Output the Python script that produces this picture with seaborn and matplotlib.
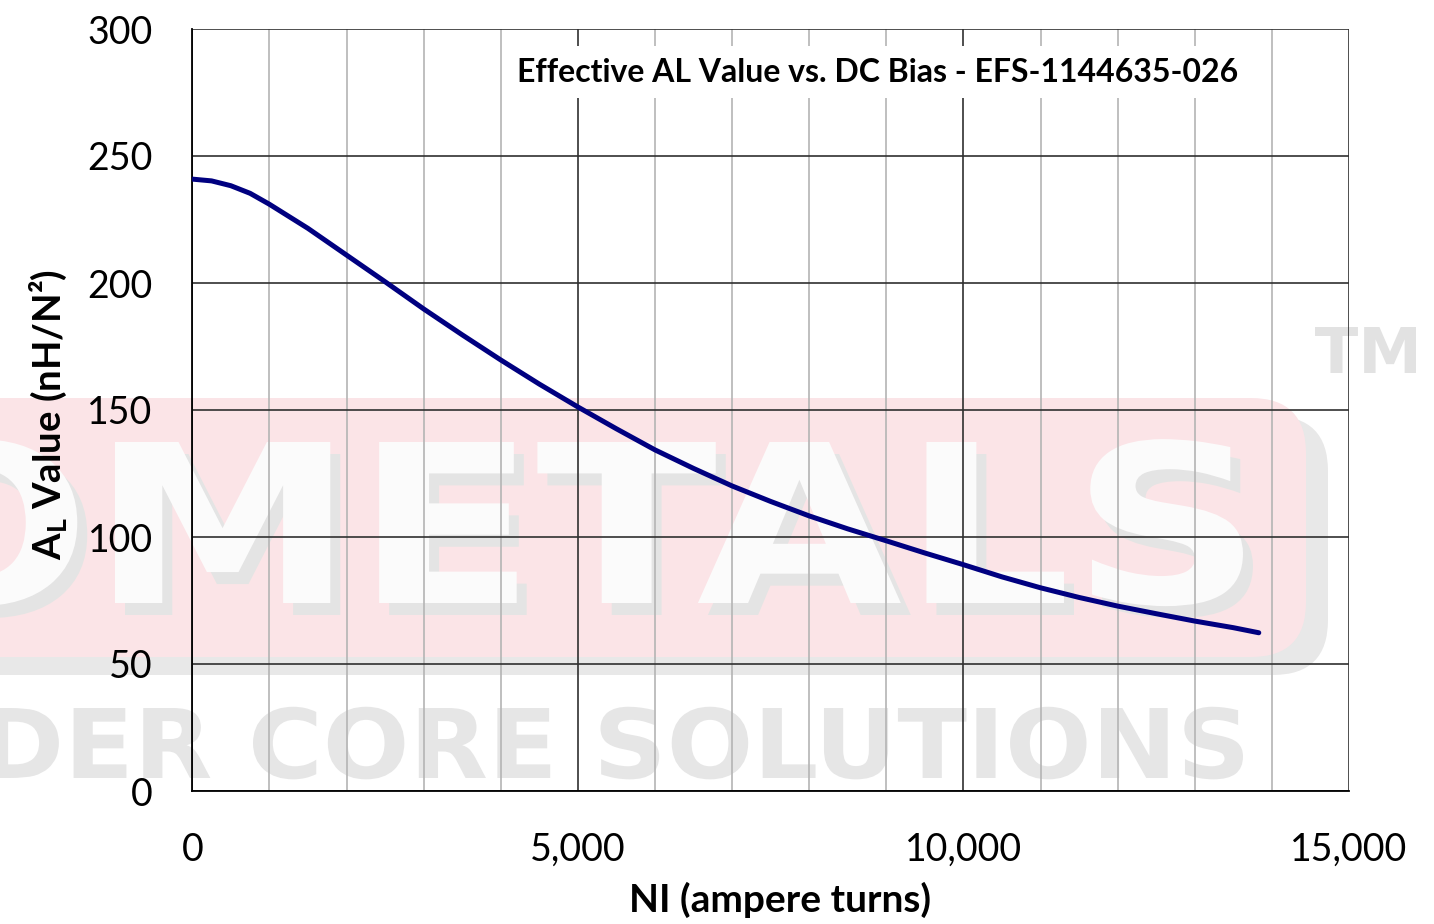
import numpy as np
import pandas as pd
import matplotlib
matplotlib.use("Agg")
import matplotlib.pyplot as plt
import seaborn as sns
from matplotlib.ticker import MultipleLocator, FuncFormatter
from matplotlib.textpath import TextPath
from matplotlib.font_manager import FontProperties
from matplotlib.patches import PathPatch, FancyBboxPatch
from matplotlib.transforms import Affine2D

# ---- data ----
ni_ampere_turns = [0, 250, 500, 750, 1000, 1500, 2000, 2500, 3000, 3500, 4000, 4500, 5000,
                   5500, 6000, 6500, 7000, 7500, 8000, 8500, 9000, 9500, 10000,
                   10500, 11000, 11500, 12000, 12500, 13000, 13500, 13830]
al_value = [240.9, 240.2, 238.3, 235.3, 231.0, 221.5, 211.0, 200.5, 189.8, 179.6, 169.7,
            160.2, 151.2, 142.6, 134.3, 127.0, 120.1, 114.0, 108.3, 103.2, 98.5, 93.7,
            89.1, 84.3, 80.0, 76.2, 72.8, 69.8, 66.9, 64.3, 62.3]
title_text = "Effective AL Value vs. DC Bias - EFS-1144635-026"
x_label = "NI (ampere turns)"
y_label = r"A$_\mathregular{L}$ Value (nH/N²)"

df = pd.DataFrame({"NI": ni_ampere_turns, "AL": al_value})

sns.set_theme(style="white")
plt.rcParams["font.family"] = ["Lato", "DejaVu Sans"]
plt.rcParams["mathtext.fontset"] = "custom"
plt.rcParams["mathtext.rm"] = "Lato:bold"

W, H = 1434, 924
fig = plt.figure(figsize=(W / 100, H / 100), dpi=100)
fig.patch.set_facecolor("white")
px = Affine2D().scale(1 / W, 1 / H) + fig.transFigure  # pixel coords, origin bottom-left

# ---- watermark (background logo) ----
wm_font = FontProperties(family="DejaVu Sans", weight="bold")


def place_text(s, prefix, x_left, x_right, y_top, y_bottom, color, dx=0, dy=0, z=-5):
    tp = TextPath((0, 0), s, size=100, prop=wm_font)
    ext = tp.get_extents()
    cap = TextPath((0, 0), "M", size=100, prop=wm_font).get_extents()
    if prefix:
        nxt = s[len(prefix)]
        pn = TextPath((0, 0), prefix + nxt, size=100, prop=wm_font).get_extents()
        one = TextPath((0, 0), nxt, size=100, prop=wm_font).get_extents()
        x0_src = pn.x1 - one.width
    else:
        x0_src = ext.x0
    x1_src = ext.x1
    sx = (x_right - x_left) / (x1_src - x0_src)
    sy = (y_bottom - y_top) / cap.y1
    tr = (Affine2D().translate(-x0_src, 0).scale(sx, sy)
          .translate(x_left + dx, H - y_bottom - dy) + px)
    patch = PathPatch(tp, transform=tr, facecolor=color, edgecolor="none", zorder=z)
    fig.add_artist(patch)


# pink rounded rectangle with grey shadow
shadow = FancyBboxPatch((-200 + 22, H - 675), 1306 + 200, 657 - 398,
                        boxstyle="round,pad=0,rounding_size=55",
                        transform=px, facecolor="#e8e8e8", edgecolor="none", zorder=-9)
pink = FancyBboxPatch((-200, H - 657), 1306 + 200, 657 - 398,
                      boxstyle="round,pad=0,rounding_size=55",
                      transform=px, facecolor="#fbe4e7", edgecolor="none", zorder=-8)
fig.add_artist(shadow)
fig.add_artist(pink)
place_text("MICROMETALS", "MICRO", 115, 1243, 442, 603, "#e4e4e4", dx=10, dy=12, z=-7)
place_text("MICROMETALS", "MICRO", 115, 1243, 442, 603, "#fbfbfb", z=-6)
place_text("POWDER CORE SOLUTIONS", "POWDER ", 253, 1243, 708, 778, "#e6e6e6", z=-6)
place_text("TM", None, 1315, 1416, 327, 373, "#e2e2e2", z=-6)

# ---- axes ----
ax_left, ax_right, ax_top, ax_bottom = 192.3, 1349.0, 29.0, 791.0
ax = fig.add_axes([ax_left / W, (H - ax_bottom) / H,
                   (ax_right - ax_left) / W, (ax_bottom - ax_top) / H])
ax.set_facecolor("none")
ax.set_zorder(1)

sns.lineplot(data=df, x="NI", y="AL", ax=ax, color="#000080", linewidth=3.6,
             zorder=5, legend=False)

ax.set_xlim(0, 15000)
ax.set_ylim(0, 300)
ax.xaxis.set_major_locator(MultipleLocator(5000))
ax.xaxis.set_minor_locator(MultipleLocator(1000))
ax.yaxis.set_major_locator(MultipleLocator(50))
ax.xaxis.set_major_formatter(FuncFormatter(lambda v, p: f"{int(round(v)):,}"))

ax.grid(True, which="major", axis="both", color="#303030", linewidth=1.2, zorder=0)
ax.grid(True, which="minor", axis="x", color="#b4b4b4", linewidth=1.2, zorder=0)
ax.set_axisbelow(True)

for side in ["top", "right"]:
    ax.spines[side].set_visible(False)
for side in ["left", "bottom"]:
    ax.spines[side].set_color("black")
    ax.spines[side].set_linewidth(1.3)

ax.tick_params(axis="both", which="major", direction="out", length=9.5, width=1.2,
               color="#202020", labelsize=27, labelcolor="black")
ax.tick_params(axis="y", which="major", pad=19)
ax.tick_params(axis="x", which="major", pad=20)
ax.tick_params(axis="x", which="minor", length=0)
ax.set_xlabel("")
ax.set_ylabel("")

# title with white background box
ax.text(878, H - 72, title_text, transform=px, ha="center", va="center",
        fontsize=23, fontweight="bold", color="black", zorder=10,
        bbox=dict(facecolor="white", edgecolor="none", pad=8))

fig.text(780 / W, (H - 900) / H, x_label, ha="center", va="center",
         fontsize=28, fontweight="bold", color="black")
fig.text(48 / W, (H - 415) / H, y_label, ha="center", va="center", rotation=90,
         fontsize=27.5, fontweight="bold", color="black")

fig.savefig("out.png", dpi=100, facecolor="white")
